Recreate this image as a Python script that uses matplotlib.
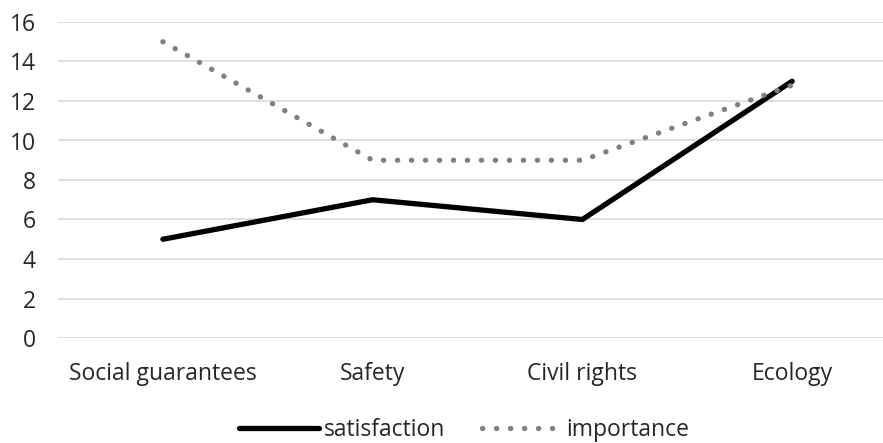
import matplotlib.pyplot as plt

# данные
categories = ["Social guarantees", "Safety", "Civil rights", "Ecology"]
satisfaction = [5, 7, 6, 13]
importance = [15, 9, 9, 12.8]
y_ticks = [0, 2, 4, 6, 8, 10, 12, 14, 16]

plt.rcParams['font.family'] = ['Open Sans', 'DejaVu Sans']

fig = plt.figure(figsize=(8.83, 4.43), dpi=100)
# область графика (немного выходит за правый край, как в оригинале)
ax = fig.add_axes([58 / 883, 105 / 443, 839 / 883, 316 / 443])

x = range(len(categories))
ax.plot(x, satisfaction, color='black', lw=3.8, solid_capstyle='round',
        solid_joinstyle='round', label='satisfaction', zorder=3)
ax.plot(x, importance, color='#808080', lw=3.8, linestyle=(0, (0.05, 2.6)),
        dash_capstyle='round', label='importance', zorder=3)

ax.set_xlim(-0.5, len(categories) - 0.5)
ax.set_ylim(0, 16)
ax.set_yticks(y_ticks)
ax.set_xticks(list(x))
ax.set_xticklabels(categories)
ax.tick_params(axis='both', length=0, labelsize=16.5, colors='#262626')
ax.tick_params(axis='x', pad=17)
ax.tick_params(axis='y', pad=16)
ax.grid(axis='y', color='#d9d9d9', lw=1.2)
ax.set_axisbelow(True)
for s in ax.spines.values():
    s.set_visible(False)

fig.legend(loc='center', bbox_to_anchor=(464 / 883, 1 - 430 / 443), ncol=2,
           frameon=False, fontsize=16.5, handlelength=3.5, handletextpad=0.2,
           columnspacing=1.6, labelcolor='#262626')

fig.savefig('out.png', dpi=100)
